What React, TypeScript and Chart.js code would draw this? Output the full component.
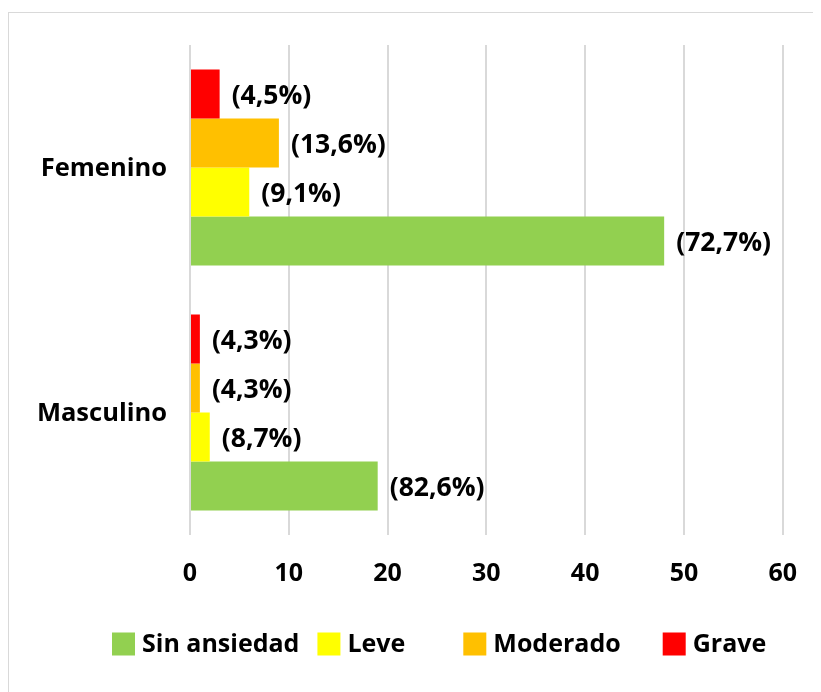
import React, { useEffect, useRef } from 'react';
import { Chart, registerables } from 'chart.js';

Chart.register(...registerables);

const categories = ['Femenino', 'Masculino'];
const seriesNames = ['Grave', 'Moderado', 'Leve', 'Sin ansiedad'];
const grave = [3, 1];
const moderado = [9, 1];
const leve = [6, 2];
const sinAnsiedad = [48, 19];
const gravePct = ['(4,5%)', '(4,3%)'];
const moderadoPct = ['(13,6%)', '(4,3%)'];
const levePct = ['(9,1%)', '(8,7%)'];
const sinAnsiedadPct = ['(72,7%)', '(82,6%)'];
const xTicks = [0, 10, 20, 30, 40, 50, 60];

const colors = ['#ff0000', '#ffc000', '#ffff00', '#92d050'];
const FONT = '"Open Sans", "DejaVu Sans", sans-serif';

const valueLabels = [gravePct, moderadoPct, levePct, sinAnsiedadPct];

const dataLabelPlugin = {
  id: 'dataLabels',
  afterDatasetsDraw(chart: any) {
    const ctx = chart.ctx;
    ctx.save();
    ctx.font = `bold 26.5px ${FONT}`;
    ctx.fillStyle = '#000';
    ctx.textAlign = 'left';
    ctx.textBaseline = 'middle';
    chart.data.datasets.forEach((ds: any, di: number) => {
      const meta = chart.getDatasetMeta(di);
      meta.data.forEach((el: any, i: number) => {
        ctx.fillText(valueLabels[di][i], el.x + 12, el.y + 2);
      });
    });
    // category labels
    const yScale = chart.scales.y;
    ctx.font = `bold 25.5px ${FONT}`;
    ctx.textAlign = 'right';
    chart.data.labels.forEach((lab: string, i: number) => {
      ctx.fillText(lab, chart.chartArea.left - 23, yScale.getPixelForValue(i) + 1);
    });

    // legend (reverse dataset order, one row)
    ctx.font = `bold 25px ${FONT}`;
    ctx.textAlign = 'left';
    const items = chart.data.datasets.map((ds: any) => ({ text: ds.label, color: ds.backgroundColor })).reverse();
    const box = 23;
    const gapText = 7;
    const gaps = [18, 58, 42];
    let x = 104;
    const cy = 636;
    items.forEach((it: any, i: number) => {
      ctx.fillStyle = it.color;
      ctx.fillRect(x, cy - box / 2, box, box);
      ctx.fillStyle = '#000';
      ctx.fillText(it.text, x + box + gapText, cy + 1);
      x += box + gapText + ctx.measureText(it.text).width + (gaps[i] || 0);
    });
    ctx.restore();
  },
};

export default function App() {
  const ref = useRef<HTMLCanvasElement | null>(null);
  useEffect(() => {
    if (!ref.current) return;
    const values = [grave, moderado, leve, sinAnsiedad];
    const chart = new Chart(ref.current, {
      type: 'bar',
      data: {
        labels: categories,
        datasets: seriesNames.map((name, i) => ({
          label: name,
          data: values[i],
          backgroundColor: colors[i],
          borderWidth: 0,
          categoryPercentage: 0.8,
          barPercentage: 1.0,
        })),
      },
      options: {
        indexAxis: 'y',
        responsive: false,
        animation: false,
        layout: { padding: { left: 0, right: 36, top: 37, bottom: 86.5 } },
        plugins: {
          tooltip: { enabled: false },
          legend: { display: false },
        },
        scales: {
          x: {
            min: 0,
            max: 60,
            afterBuildTicks: (scale: any) => {
              scale.ticks = xTicks.map((v) => ({ value: v }));
            },
            afterFit: (scale: any) => {
              scale.height = 70.5;
            },
            grid: { color: '#d9d9d9', lineWidth: 2, drawTicks: false },
            border: { display: false },
            ticks: {
              padding: 24,
              color: '#000',
              font: { family: FONT, size: 25, weight: 'bold' },
            },
          },
          y: {
            afterFit: (scale: any) => {
              scale.width = 182;
            },
            grid: { display: false, drawTicks: false },
            border: { display: false },
            ticks: { display: false },
          },
        },
      },
      plugins: [dataLabelPlugin],
    } as any);
    return () => chart.destroy();
  }, []);

  return (
    <div style={{ position: 'relative', width: 813, height: 684 }}>
      <div
        style={{
          position: 'absolute',
          left: 0,
          top: 4,
          right: 0,
          bottom: 0,
          borderTop: '1px solid #d9d9d9',
          borderLeft: '1px solid #d9d9d9',
        }}
      />
      <canvas
        ref={ref}
        width={813}
        height={684}
        style={{ position: 'absolute', left: 0, top: 0, width: 813, height: 684 }}
      />
    </div>
  );
}
